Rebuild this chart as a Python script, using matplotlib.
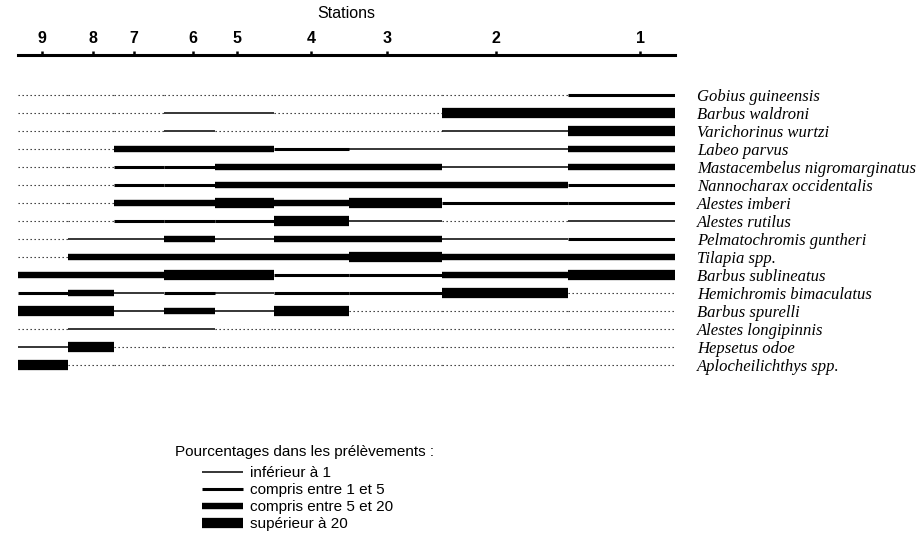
import matplotlib.pyplot as plt
from matplotlib.lines import Line2D

plt.rcParams['font.family'] = ['Liberation Sans', 'DejaVu Sans']

# stations, d'amont (9) en aval (1), et leur position le long du cours d'eau (0-100)
stations = ["9", "8", "7", "6", "5", "4", "3", "2", "1"]
station_pos = [3.7, 11.4, 17.7, 26.6, 33.3, 44.6, 56.2, 72.8, 94.7]
river_span = [0, 100]

species = [
    "Gobius guineensis", "Barbus waldroni", "Varichorinus wurtzi", "Labeo parvus",
    "Mastacembelus nigromarginatus", "Nannocharax occidentalis", "Alestes imberi",
    "Alestes rutilus", "Pelmatochromis guntheri", "Tilapia spp.", "Barbus sublineatus",
    "Hemichromis bimaculatus", "Barbus spurelli", "Alestes longipinnis",
    "Hepsetus odoe", "Aplocheilichthys spp.",
]

# classe d'abondance par station (9 -> 1)
# 0 absent, 1 : < 1 %, 2 : 1-5 %, 3 : 5-20 %, 4 : > 20 %
gobius_guineensis = [0, 0, 0, 0, 0, 0, 0, 0, 2]
barbus_waldroni = [0, 0, 0, 1, 1, 0, 0, 4, 4]
varichorinus_wurtzi = [0, 0, 0, 1, 0, 0, 0, 1, 4]
labeo_parvus = [0, 0, 3, 3, 3, 2, 1, 1, 3]
mastacembelus = [0, 0, 2, 2, 3, 3, 3, 1, 3]
nannocharax = [0, 0, 2, 2, 3, 3, 3, 3, 2]
alestes_imberi = [0, 0, 3, 3, 4, 3, 4, 2, 2]
alestes_rutilus = [0, 0, 2, 2, 2, 4, 1, 0, 1]
pelmatochromis = [0, 1, 1, 3, 1, 3, 3, 1, 2]
tilapia = [0, 3, 3, 3, 3, 3, 4, 3, 3]
barbus_sublineatus = [3, 3, 3, 4, 4, 2, 2, 3, 4]
hemichromis = [2, 3, 1, 2, 1, 2, 2, 4, 0]
barbus_spurelli = [4, 4, 1, 3, 1, 4, 0, 0, 0]
alestes_longipinnis = [0, 1, 1, 1, 0, 0, 0, 0, 0]
hepsetus_odoe = [1, 4, 0, 0, 0, 0, 0, 0, 0]
aplocheilichthys = [4, 0, 0, 0, 0, 0, 0, 0, 0]

levels = [
    gobius_guineensis, barbus_waldroni, varichorinus_wurtzi, labeo_parvus,
    mastacembelus, nannocharax, alestes_imberi, alestes_rutilus, pelmatochromis,
    tilapia, barbus_sublineatus, hemichromis, barbus_spurelli,
    alestes_longipinnis, hepsetus_odoe, aplocheilichthys,
]

class_labels = ["inférieur à 1", "compris entre 1 et 5",
                "compris entre 5 et 20", "supérieur à 20"]

# épaisseur du trait pour chaque classe
widths = {1: 1.1, 2: 2.2, 3: 4.6, 4: 7.4}

# chaque station couvre le tronçon compris entre les milieux voisins
bounds = ([river_span[0]]
          + [(a + b) / 2 for a, b in zip(station_pos[:-1], station_pos[1:])]
          + [river_span[1]])

fig = plt.figure(figsize=(9.2, 5.43), dpi=100)
ax = fig.add_axes([18 / 920, 163 / 543, 657 / 920, 325 / 543])

for row, lev in enumerate(levels):
    for k, cls in enumerate(lev):
        x0, x1 = bounds[k], bounds[k + 1]
        if cls == 0:
            ax.plot([x0, x1], [row, row], color='#222222', lw=0.8,
                    linestyle=(0, (1.2, 2.4)))
        else:
            ax.plot([x0, x1], [row, row], color='black', lw=widths[cls],
                    solid_capstyle='butt')

ax.set_xlim(river_span)
ax.set_ylim(15.83, -2.22)

for side in ['left', 'right', 'bottom']:
    ax.spines[side].set_visible(False)
ax.spines['top'].set_linewidth(2.2)

ax.xaxis.tick_top()
ax.xaxis.set_label_position('top')
ax.set_xticks(station_pos, stations, fontsize=11.5, fontweight='bold')
ax.tick_params(axis='x', direction='out', length=3, width=1.8, pad=3.5)
ax.set_xlabel('Stations', fontsize=11.5, labelpad=9)

ax.yaxis.tick_right()
ax.set_yticks(range(len(species)), species)
ax.tick_params(axis='y', length=0, pad=16)
for lab in ax.get_yticklabels():
    lab.set_fontfamily('Liberation Serif')
    lab.set_fontstyle('italic')
    lab.set_fontsize(12)

handles = [Line2D([], [], color='black', lw=widths[c], solid_capstyle='butt')
           for c in (1, 2, 3, 4)]
fig.legend(handles, class_labels, loc='upper left',
           bbox_to_anchor=(202 / 920, 1 - 466 / 543), frameon=False,
           fontsize=11, handlelength=2.7, handletextpad=0.45,
           labelspacing=0.2, borderpad=0, borderaxespad=0)
fig.text(175 / 920, 1 - 452 / 543, 'Pourcentages dans les prélèvements :',
         fontsize=11, va='center')

fig.savefig('out.png', dpi=100)
